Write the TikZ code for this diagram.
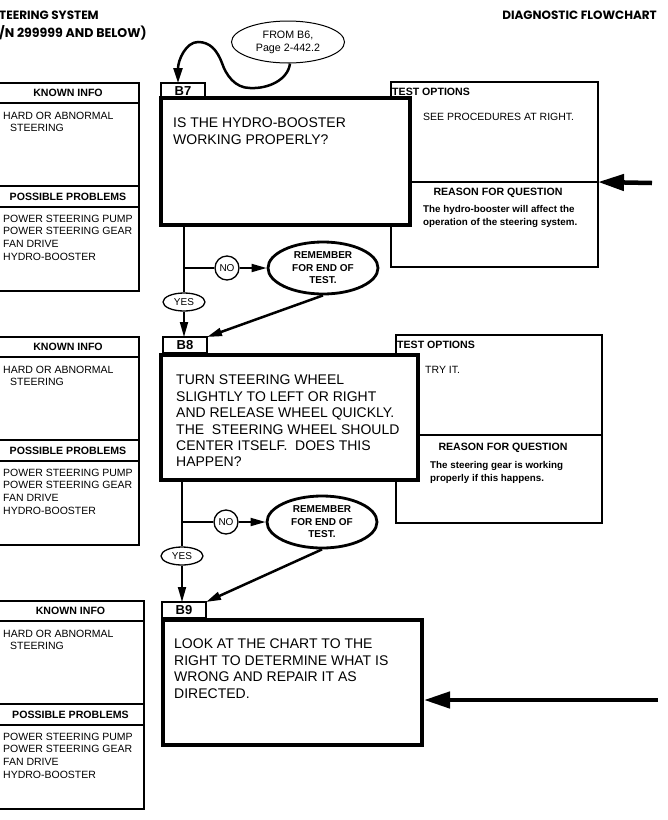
\documentclass[tikz,border=0pt]{standalone}
\usepackage{fontspec}
\setmainfont{Liberation Sans}
\newfontfamily\headfont{Poppins}
\usetikzlibrary{arrows.meta,shapes.geometric}

\tikzset{
  colbox/.style={draw, line width=1.3pt, outer sep=0pt, inner sep=0pt, fill=white},
  colhead/.style={colbox, font=\fontsize{10.6}{12}\selectfont\bfseries},
  coltxt/.style={font=\fontsize{10.5}{12.7}\selectfont, align=left, inner sep=0pt, anchor=north west},
  tabbox/.style={draw, line width=1.3pt, outer sep=0pt, inner sep=0pt, fill=white, minimum width=44, minimum height=16, anchor=north west, font=\fontsize{13}{13}\selectfont\bfseries},
  qbox/.style={draw, line width=4pt, outer sep=0pt, inner sep=0pt, fill=white, anchor=north west},
  qtxt/.style={font=\fontsize{14}{16.4}\selectfont, align=left, inner sep=0pt, anchor=north west},
  optbox/.style={draw, line width=1.3pt, outer sep=0pt, inner sep=0pt, anchor=north west, fill=white},
  opthead/.style={font=\fontsize{10.6}{12}\selectfont\bfseries, inner sep=0pt},
  opttxt/.style={font=\fontsize{10.5}{12.7}\selectfont, inner sep=0pt, anchor=west},
  rtxt/.style={font=\fontsize{9.8}{13.5}\selectfont\bfseries, align=left, inner sep=0pt, anchor=north west},
  conn/.style={line width=1.8pt, -{Triangle[length=15pt,width=8pt]}},
  joinline/.style={line width=1.8pt},
  bigarrow/.style={line width=4.5pt, -{Triangle[length=26pt,width=16pt]}},
  remember/.style={ellipse, draw, line width=2.8pt, minimum width=110, minimum height=52, inner sep=0pt, align=center, fill=white, font=\fontsize{10}{12.5}\selectfont\bfseries},
  nocirc/.style={circle, draw, line width=1.3pt, minimum size=24, inner sep=0pt, font=\fontsize{10}{10}\selectfont, fill=white},
  yesell/.style={ellipse, draw, line width=1.3pt, minimum width=42, minimum height=18, inner sep=0pt, font=\fontsize{10}{10}\selectfont, fill=white},
  headtxt/.style={font=\headfont\bfseries\fontsize{12}{14}\selectfont, inner sep=0pt},
  fromell/.style={ellipse, draw, line width=1pt, minimum width=113, minimum height=42, inner sep=0pt, align=center, fill=white, font=\fontsize{10.7}{13}\selectfont},
}

\newcommand\mkleftcol[3]{%
  \node[colhead, minimum width={#3+3}, minimum height=20, anchor=north west] (ki#1) at (-3,#2) {KNOWN INFO};
  \node[colbox, minimum width={#3+3}, minimum height=83, anchor=north west] (kb#1) at (ki#1.south west) {};
  \node[colhead, minimum width={#3+3}, minimum height=21, anchor=north west] (ph#1) at (kb#1.south west) {POSSIBLE PROBLEMS};
  \node[colbox, minimum width={#3+3}, minimum height=84, anchor=north west] (pb#1) at (ph#1.south west) {};
  \node[coltxt] (kt#1) at ([xshift=6pt,yshift=-8.5pt]kb#1.north west) {HARD OR ABNORMAL\\\hspace*{7pt}STEERING};
  \node[coltxt] (pt#1) at ([xshift=6pt,yshift=-7.5pt]pb#1.north west) {POWER STEERING PUMP\\POWER STEERING GEAR\\FAN DRIVE\\HYDRO-BOOSTER};
}

\begin{document}
\begin{tikzpicture}[x=1pt,y=-1pt]
\useasboundingbox (0,0) rectangle (668,820);
\fill[white] (0,0) rectangle (668,820);

% page header
\node[headtxt, anchor=west] (h1) at (-1,15) {TEERING SYSTEM};
\node[headtxt, anchor=west, font=\headfont\bfseries\fontsize{12.6}{14}\selectfont] (h2) at (-1,33) {/N 299999 AND BELOW)};
\node[headtxt, anchor=east] (h3) at (657,15) {DIAGNOSTIC FLOWCHART};

% left columns
\mkleftcol{1}{83}{139}
\mkleftcol{2}{337}{139}
\mkleftcol{3}{601}{144}

% test option / reason boxes
\node[optbox, minimum width=207, minimum height=100] (to1) at (391,82) {};
\node[optbox, minimum width=207, minimum height=85] (rq1) at (to1.south west) {};
\draw[line width=2.5pt] (to1.south west) -- (to1.south east);
\node[optbox, minimum width=206, minimum height=100] (to2) at (396,335) {};
\node[optbox, minimum width=206, minimum height=88] (rq2) at (to2.south west) {};
\draw[line width=2.5pt] (to2.south west) -- (to2.south east);

\node[opthead, anchor=west] (tol1) at ([xshift=1pt,yshift=-10pt]to1.north west) {TEST OPTIONS};
\node[opttxt] (tot1) at (423,117) {SEE PROCEDURES AT RIGHT.};
\node[opthead] (rqh1) at (498,193) {REASON FOR QUESTION};
\node[rtxt] (rqt1) at (423,205) {The hydro-booster will affect the\\operation of the steering system.};

\node[opthead, anchor=west] (tol2) at ([xshift=1pt,yshift=-10pt]to2.north west) {TEST OPTIONS};
\node[opttxt] (tot2) at (425,370) {TRY IT.};
\node[opthead] (rqh2) at (503,448) {REASON FOR QUESTION};
\node[rtxt] (rqt2) at (430,461) {The steering gear is working\\properly if this happens.};

% tabs
\node[tabbox] (b7) at (161,83) {B7};
\node[tabbox] (b8) at (163,337) {B8};
\node[tabbox] (b9) at (162,602) {B9};

% question boxes
\node[qbox, minimum width=249, minimum height=127] (q1) at (161,98) {};
\node[qbox, minimum width=257, minimum height=125] (q2) at (161,355) {};
\node[qbox, minimum width=259, minimum height=125] (q3) at (163,620) {};

\node[qtxt] (q1t) at (173,118) {IS THE HYDRO-BOOSTER\\WORKING PROPERLY?};
\node[qtxt] (q2t) at (176,375) {TURN STEERING WHEEL\\SLIGHTLY TO LEFT OR RIGHT\\AND RELEASE WHEEL QUICKLY.\\THE\ \ STEERING WHEEL SHOULD\\CENTER ITSELF.\ \ DOES THIS\\HAPPEN?};
\node[qtxt] (q3t) at (174,639) {LOOK AT THE CHART TO THE\\RIGHT TO DETERMINE WHAT IS\\WRONG AND REPAIR IT AS\\DIRECTED.};

% from B6
\node[fromell] (from) at (288,42) {FROM B6,\\Page 2-442.2};
\coordinate (fs) at ([xshift=2pt]from.south);
\coordinate (ft) at ([xshift=17pt]b7.north west);
\draw[line width=2.5pt, -{Triangle[length=15pt,width=9pt]}]
  (fs) .. controls (288,80) and (268,89) .. (250,88)
       .. controls (235,88) and (226,75) .. (222,63)
       .. controls (217,50) and (210,42) .. (198,42)
       .. controls (186,42) and (178,60) .. (ft);

% flow B7 -> B8
\node[yesell] (yes1) at (184,302) {YES};
\node[nocirc] (no1) at (227,268) {NO};
\node[remember] (rem1) at (323,268) {REMEMBER\\FOR END OF\\TEST.};
\draw[joinline] (yes1.north |- q1.south) -- (yes1.north);
\draw[joinline] (yes1 |- no1) -- (no1.west);
\draw[conn] (no1.east) -- (rem1.west);
\draw[conn] (yes1.south) -- (yes1.south |- b8.north);
\draw[conn, line width=2.5pt] (rem1.south) -- (b8.north east);

% flow B8 -> B9
\node[yesell] (yes2) at (182,556) {YES};
\node[nocirc] (no2) at (226,522) {NO};
\node[remember] (rem2) at (322,522) {REMEMBER\\FOR END OF\\TEST.};
\draw[joinline] (yes2.north |- q2.south) -- (yes2.north);
\draw[joinline] (yes2 |- no2) -- (no2.west);
\draw[conn] (no2.east) -- (rem2.west);
\draw[conn] (yes2.south) -- (yes2.south |- b9.north);
\draw[conn, line width=2.5pt] (rem2.south) -- (b9.north east);

% big arrows from the right
\coordinate (a1) at (652,183);
\draw[bigarrow] (a1) -- (to1.south east);
\coordinate (a3) at (658,700);
\coordinate (a3t) at ([xshift=2pt]q3.east |- a3);
\draw[bigarrow] (a3) -- (a3t);
\end{tikzpicture}
\end{document}
